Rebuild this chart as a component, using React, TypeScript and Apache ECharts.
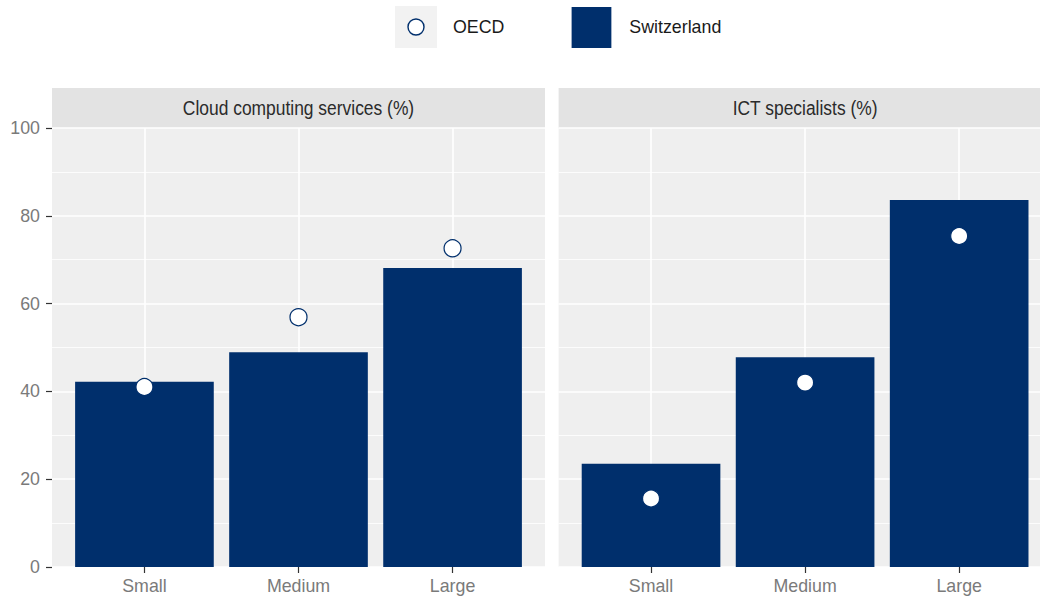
import React, { useEffect, useRef } from "react";
import * as echarts from "echarts";

const categories = ["Small", "Medium", "Large"];
const panelTitles = ["Cloud computing services (%)", "ICT specialists (%)"];
const switzerlandCloud = [42.2, 48.9, 68.1];
const oecdCloud = [41.0, 56.9, 72.6];
const switzerlandICT = [23.5, 47.8, 83.6];
const oecdICT = [15.6, 42.0, 75.4];
const yTicks = [0, 20, 40, 60, 80, 100];

const NAVY = "#002f6c";
const FONT = '"Liberation Sans", Arial, sans-serif';
const FS = 17.8;

const CHART_W = 1040;
const PANEL_TOP = 128;
const PANEL_H = 439;
const PANEL_W = 493;
const PANEL_LEFT = [52, 558.6];
const UNIT = PANEL_W / 3.2;
const X_MIN = 0.4;

const svgIcon = (body: string) =>
  "image://data:image/svg+xml;charset=utf-8," +
  encodeURIComponent(
    `<svg xmlns="http://www.w3.org/2000/svg" width="53" height="42" viewBox="0 0 53 42">${body}</svg>`
  );

const oecdIcon = svgIcon(
  `<rect x="0" y="0" width="42" height="42" fill="#f2f2f2"/><circle cx="21" cy="21" r="8" fill="#ffffff" stroke="${NAVY}" stroke-width="1.4"/>`
);
const swissIcon = svgIcon(`<rect x="0" y="1" width="40" height="41" fill="${NAVY}"/>`);

export default function App() {
  const ref = useRef<HTMLDivElement>(null);

  useEffect(() => {
    if (!ref.current) return;
    const chart = echarts.init(ref.current, undefined, { renderer: "svg" });
    const seriesData = [
      { swiss: switzerlandCloud, oecd: oecdCloud },
      { swiss: switzerlandICT, oecd: oecdICT },
    ];

    // visible width of each panel (the right one is cut by the picture's edge)
    const visW = PANEL_LEFT.map((left) => Math.min(PANEL_W, CHART_W - left));

    const grids = PANEL_LEFT.map((left, i) => ({
      left,
      top: PANEL_TOP,
      width: visW[i],
      height: PANEL_H,
      show: true,
      backgroundColor: "#efefef",
      borderWidth: 0,
      containLabel: false,
    }));

    const xAxes = PANEL_LEFT.map((_, i) => ({
      type: "value",
      gridIndex: i,
      min: X_MIN,
      max: X_MIN + visW[i] / UNIT,
      axisLine: { show: false },
      axisTick: {
        show: true,
        customValues: categories.map((_, j) => j + 1),
        length: 6,
        lineStyle: { color: "#333333", width: 1.2 },
      },
      axisLabel: {
        customValues: categories.map((_, j) => j + 1),
        formatter: (v: number) => categories[Math.round(v) - 1] ?? "",
        color: "#7a7a7a",
        fontSize: FS,
        fontFamily: FONT,
        margin: 10,
      },
      splitLine: { show: true, lineStyle: { color: "#ffffff", width: 1.6 } },
    }));

    const yAxes = PANEL_LEFT.map((_, i) => ({
      type: "value",
      gridIndex: i,
      min: yTicks[0],
      max: yTicks[yTicks.length - 1],
      interval: 20,
      axisLine: { show: false },
      axisTick: { show: i === 0, length: 6, lineStyle: { color: "#333333", width: 1.2 } },
      axisLabel: {
        show: i === 0,
        color: "#7a7a7a",
        fontSize: FS,
        fontFamily: FONT,
        margin: 12,
      },
      splitLine: { show: true, lineStyle: { color: "#ffffff", width: 1.6 } },
      minorTick: { show: false, splitNumber: 2 },
      minorSplitLine: { show: true, lineStyle: { color: "#ffffff", width: 0.8 } },
    }));

    const series: any[] = [];
    seriesData.forEach((d, i) => {
      series.push({
        name: "Switzerland",
        type: "bar",
        xAxisIndex: i,
        yAxisIndex: i,
        barWidth: UNIT * 0.9,
        itemStyle: { color: NAVY },
        data: categories.map((_, j) => [j + 1, d.swiss[j]]),
        z: 2,
      });
      series.push({
        name: "OECD",
        type: "scatter",
        xAxisIndex: i,
        yAxisIndex: i,
        symbol: "circle",
        symbolSize: 17,
        itemStyle: { color: "#ffffff", borderColor: NAVY, borderWidth: 1.2, opacity: 1 },
        data: categories.map((_, j) => [j + 1, d.oecd[j]]),
        z: 3,
      });
    });

    const graphic: any[] = [];
    PANEL_LEFT.forEach((left, i) => {
      graphic.push({
        type: "rect",
        shape: { x: left, y: 88, width: visW[i], height: 40 },
        style: { fill: "#e3e3e3" },
        silent: true,
      });
      graphic.push({
        type: "text",
        x: left + PANEL_W / 2,
        y: 108,
        scaleX: 0.83,
        style: {
          text: panelTitles[i],
          align: "center",
          verticalAlign: "middle",
          fontSize: 21,
          fontFamily: FONT,
          fill: "#2b2b2b",
        },
        silent: true,
      });
    });

    chart.setOption({
      animation: false,
      backgroundColor: "#ffffff",
      legend: {
        left: 395,
        top: 6,
        itemWidth: 53,
        itemHeight: 42,
        itemGap: 67,
        padding: 0,
        data: [
          { name: "OECD", icon: oecdIcon },
          { name: "Switzerland", icon: swissIcon },
        ],
        textStyle: { fontSize: FS, fontFamily: FONT, color: "#1a1a1a" },
      },
      grid: grids,
      xAxis: xAxes,
      yAxis: yAxes,
      series,
      graphic,
    });

    return () => chart.dispose();
  }, []);

  return (
    <div
      ref={ref}
      style={{ position: "fixed", left: 0, top: 0, width: CHART_W, height: 600, background: "#fff" }}
    />
  );
}
